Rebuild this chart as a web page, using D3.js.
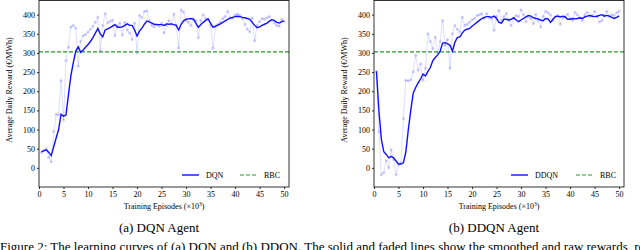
<!DOCTYPE html>
<html>
<head>
<meta charset="utf-8">
<script src="https://cdn.jsdelivr.net/npm/d3@7"></script>
<style>
  body { margin: 0; background: #fff; overflow: hidden; }
  svg { display: block; }
  text { font-family: "Liberation Serif", "DejaVu Serif", serif; fill: #000; }
</style>
</head>
<body>
<div class="chart"></div>
<script>
// episodes (x10^3), every 0.5
var episodes = [0.5,1,1.5,2,2.5,3,3.5,4,4.5,5,5.5,6,6.5,7,7.5,8,8.5,9,9.5,10,
  10.5,11,11.5,12,12.5,13,13.5,14,14.5,15,15.5,16,16.5,17,17.5,18,18.5,19,19.5,20,
  20.5,21,21.5,22,22.5,23,23.5,24,24.5,25,25.5,26,26.5,27,27.5,28,28.5,29,29.5,30,
  30.5,31,31.5,32,32.5,33,33.5,34,34.5,35,35.5,36,36.5,37,37.5,38,38.5,39,39.5,40,
  40.5,41,41.5,42,42.5,43,43.5,44,44.5,45,45.5,46,46.5,47,47.5,48,48.5,49,49.5,50];

var dqnRaw = [40,45,50,28,15,95,140,138,228,125,280,315,368,372,365,265,330,345,348,355,
  362,370,380,394,305,372,403,378,382,386,345,372,378,347,380,360,352,335,378,300,
  398,392,408,410,385,372,368,375,370,378,352,372,385,375,402,372,312,412,407,385,
  380,372,390,385,340,385,400,390,388,372,312,368,375,380,390,395,409,392,390,400,
  402,398,390,375,362,355,392,332,372,382,390,388,392,395,385,378,372,370,388,382];

var dqnSmooth = [42,45,47,40,32,55,78,100,140,135,138,190,240,275,305,316,302,308,315,322,
  330,340,352,364,350,342,360,363,366,370,374,367,367,368,372,376,372,372,360,344,
  357,365,375,383,381,378,375,374,374,374,372,376,375,376,374,372,360,375,384,388,
  389,390,388,378,367,374,380,385,389,378,367,370,373,376,380,384,388,391,393,395,
  396,395,393,392,390,388,380,372,366,368,372,375,378,383,387,385,380,378,382,384];

var ddqnRaw = [252,95,-18,-12,19,0,47,22,-18,8,13,129,229,227,230,251,294,255,272,229,
  260,350,330,311,342,300,330,385,320,335,260,350,372,362,355,394,372,375,380,387,
  390,398,400,403,390,403,392,390,359,395,411,385,395,403,385,372,390,398,395,413,
  400,381,395,390,376,401,385,368,395,409,405,400,385,395,398,375,392,395,401,390,
  385,406,400,392,385,400,406,395,398,409,395,381,385,398,409,395,400,398,405,409];

var ddqnSmooth = [252,150,75,42,35,26,30,26,18,10,10,13,42,100,150,195,210,222,232,245,
  240,252,262,280,288,295,305,326,327,324,320,305,328,340,342,352,360,362,364,370,
  375,380,385,390,393,395,395,393,396,390,380,378,388,388,386,388,392,386,382,386,
  390,394,398,396,392,390,389,386,384,390,389,380,388,395,396,394,396,394,388,388,
  390,389,390,392,390,394,396,398,396,395,396,398,400,396,398,396,393,390,393,397];

var rbcValue = 303;
var xTicks = [0,5,10,15,20,25,30,35,40,45,50];
var yTicks = [0,50,100,150,200,250,300,350,400];

var panels = [
  {left: 39, name: "DQN", raw: dqnRaw, smooth: dqnSmooth, caption: "(a) DQN Agent",
   legendX: 182},
  {left: 374, name: "DDQN", raw: ddqnRaw, smooth: ddqnSmooth, caption: "(b) DDQN Agent",
   legendX: 511}
];

var svg = d3.select(".chart").append("svg")
  .attr("width", 640)
  .attr("height", 250);

var plotW = 250, plotTop = 0.5, plotBottom = 187;

panels.forEach(function (p) {
  var x = d3.scaleLinear().domain([0, 51]).range([p.left, p.left + plotW]);
  var y = d3.scaleLinear().domain([-50, 437]).range([plotBottom, plotTop]);

  var g = svg.append("g");

  // raw (faded) curve
  var line = d3.line().x(function (d) { return x(d[0]); }).y(function (d) { return y(d[1]); });
  var rawPts = episodes.map(function (e, i) { return [e, p.raw[i]]; });
  var smoothPts = episodes.map(function (e, i) { return [e, p.smooth[i]]; });

  g.append("path")
    .datum(rawPts)
    .attr("d", line)
    .attr("fill", "none")
    .attr("stroke", "#0000ff")
    .attr("stroke-opacity", 0.13)
    .attr("stroke-width", 1);

  g.selectAll(".dot")
    .data(rawPts)
    .enter()
    .append("circle")
    .attr("cx", function (d) { return x(d[0]); })
    .attr("cy", function (d) { return y(d[1]); })
    .attr("r", 1.5)
    .attr("fill", "#0000ff")
    .attr("fill-opacity", 0.18);

  // RBC baseline
  g.append("line")
    .attr("x1", p.left).attr("x2", p.left + plotW)
    .attr("y1", y(rbcValue)).attr("y2", y(rbcValue))
    .attr("stroke", "#2a962a")
    .attr("stroke-width", 1.2)
    .attr("stroke-dasharray", "4,2");

  // smoothed curve
  g.append("path")
    .datum(smoothPts)
    .attr("d", line)
    .attr("fill", "none")
    .attr("stroke", "#1010ff")
    .attr("stroke-width", 1.4);

  // frame
  g.append("rect")
    .attr("x", p.left).attr("y", plotTop)
    .attr("width", plotW).attr("height", plotBottom - plotTop)
    .attr("fill", "none")
    .attr("stroke", "#000")
    .attr("stroke-width", 0.8);

  // axes
  var bottomAxis = d3.axisBottom(x).tickValues(xTicks).tickSize(2).tickPadding(2);
  var leftAxis = d3.axisLeft(y).tickValues(yTicks).tickSize(2).tickPadding(2);

  var xa = g.append("g")
    .attr("transform", `translate(0, ${plotBottom})`)
    .call(bottomAxis);
  var ya = g.append("g")
    .attr("transform", `translate(${p.left}, 0)`)
    .call(leftAxis);
  [xa, ya].forEach(function (a) {
    a.select(".domain").remove();
    a.selectAll("text").style("font-family", "'Liberation Serif', serif").style("font-size", "8px");
    a.selectAll("line").attr("stroke-width", 0.8);
  });

  // axis labels
  var xl = g.append("text")
    .attr("x", p.left + plotW / 2)
    .attr("y", 209)
    .attr("text-anchor", "middle")
    .style("font-size", "8px");
  xl.append("tspan").text("Training Episodes (\u00d710");
  xl.append("tspan").attr("dy", -3).style("font-size", "5.5px").text("3");
  xl.append("tspan").attr("dy", 3).text(")");

  g.append("text")
    .attr("transform", `translate(${p.left - 27}, 90) rotate(-90)`)
    .attr("text-anchor", "middle")
    .style("font-size", "8px")
    .text("Average Daily Reward (\u20ac/MWh)");

  // legend
  var ly = 175;
  g.append("line")
    .attr("x1", p.legendX).attr("x2", p.legendX + 17)
    .attr("y1", ly).attr("y2", ly)
    .attr("stroke", "#1010ff").attr("stroke-width", 1.4);
  g.append("text")
    .attr("x", p.legendX + 24).attr("y", ly + 3)
    .style("font-size", "8px")
    .text(p.name);
  var gx = p.name === "DQN" ? p.legendX + 58 : p.legendX + 65;
  g.append("line")
    .attr("x1", gx).attr("x2", gx + 16)
    .attr("y1", ly).attr("y2", ly)
    .attr("stroke", "#2a962a").attr("stroke-width", 1.2)
    .attr("stroke-dasharray", "4,2");
  g.append("text")
    .attr("x", gx + 24).attr("y", ly + 3)
    .style("font-size", "8px")
    .text("RBC");

  // sub caption
  g.append("text")
    .attr("x", p.left + plotW / 2 - 5)
    .attr("y", 232)
    .attr("text-anchor", "middle")
    .style("font-size", "13px")
    .text(p.caption);
});

// figure caption, cut by the bottom edge as in the source
svg.append("text")
  .attr("x", 0)
  .attr("y", 251)
  .style("font-size", "13px")
  .text("Figure 2: The learning curves of (a) DQN and (b) DDQN. The solid and faded lines show the smoothed and raw rewards, respectively.");
</script>
</body>
</html>
